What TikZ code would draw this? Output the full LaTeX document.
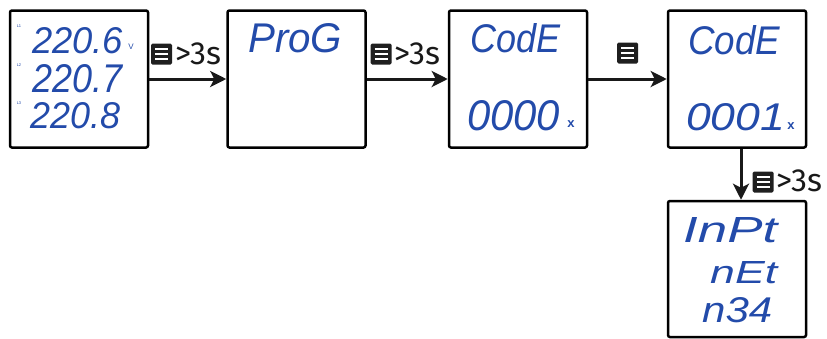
\documentclass[tikz,border=0pt]{standalone}
\usepackage{fontspec}
\setmainfont{Fira Sans}
\newfontfamily\lcdfont{Liberation Sans}
\usetikzlibrary{arrows.meta}
\definecolor{lcdblue}{RGB}{35,75,170}
\newcommand{\lcd}[3]{\resizebox{#1pt}{#2pt}{\lcdfont\itshape #3}}
\begin{document}
\begin{tikzpicture}[x=1pt,y=-1pt,
  scr/.style={draw=black, line width=2.5pt, rounded corners=2pt, fill=white,
    minimum width=138pt, minimum height=137pt, inner sep=0pt},
  lcd/.style={anchor=north west, inner sep=0pt, text=lcdblue},
  tiny/.style={inner sep=0pt, text=lcdblue, font=\lcdfont\fontsize{4}{4}\selectfont},
  multsign/.style={inner sep=0pt, text=lcdblue, font=\lcdfont\bfseries\fontsize{13}{13}\selectfont},
  arr/.style={line width=3pt, draw=black!90, -{Stealth[length=16pt,width=16pt,inset=4pt]}},
  menuicon/.style={fill=black!88, rounded corners=1.5pt, minimum size=21pt, inner sep=0pt,
    path picture={
      \foreach \yy in {-0.36,0,0.36}{
        \draw[white, line width=2pt]
          ([xshift=-6.5pt,yshift=\yy*14pt]path picture bounding box.center) --
          ([xshift=6.5pt,yshift=\yy*14pt]path picture bounding box.center);}
    }},
  lbl/.style={anchor=base west, inner sep=0pt, font=\fontsize{32}{32}\selectfont, text=black!90}
]
\useasboundingbox (0,0) rectangle (827,338);

% screens
\node[scr] (b1) at (79,79) {};
\node[scr] (b2) at (296.5,79) {};
\node[scr] (b3) at (518,79) {};
\node[scr] (b4) at (737,79) {};
\node[scr, minimum height=136pt] (b5) at (737,269) {};

% screen 1
\node[lcd] (t1) at (32,27) {\lcd{91}{26}{220.6}};
\node[lcd] (t2) at (32,64) {\lcd{90}{28}{220.7}};
\node[lcd] (t3) at (30,102) {\lcd{90}{26}{220.8}};
\node[tiny] (l1) at (19,26) {L1};
\node[tiny] (l2) at (19,65) {L2};
\node[tiny] (l3) at (19,103) {L3};
\node[inner sep=0pt, text=lcdblue, font=\lcdfont\fontsize{8}{8}\selectfont] (v) at (131,47) {V};

% screen 2
\node[lcd] (t4) at (248,23) {\lcd{94}{29}{ProG}};

% screen 3
\node[lcd] (t5) at (470,23) {\lcd{90}{29}{CodE}};
\node[lcd] (t6) at (467,100) {\lcd{93}{30}{0000}};
\node[multsign] (x1) at (571,124) {x};

% screen 4
\node[lcd] (t7) at (688,25) {\lcd{92}{29}{CodE}};
\node[lcd] (t8) at (686,103) {\lcd{99}{27}{0001}};
\node[multsign] (x2) at (791,126) {x};

% screen 5
\node[lcd] (t9) at (683,217) {\lcd{94}{25}{InPt}};
\node[lcd] (t10) at (710,261) {\lcd{67}{22}{nEt}};
\node[lcd] (t11) at (702,297) {\lcd{70}{25}{n34}};

% arrows
\draw[arr] (b1) -- (b2);
\draw[arr] (b2) -- (b3);
\draw[arr] (b3) -- (b4);
\draw[arr] ([xshift=4pt]b4.south) -- ([xshift=4pt]b5.north);

% labels
\node[menuicon] (m1) at (161.5,54) {};
\node[lbl] (s1) at (175,64) {>3s};
\node[menuicon] (m2) at (381,54) {};
\node[lbl] (s2) at (394,64) {>3s};
\node[menuicon] (m3) at (627.5,53) {};
\node[menuicon] (m4) at (763,182) {};
\node[lbl] (s4) at (776,191) {>3s};
\end{tikzpicture}
\end{document}
